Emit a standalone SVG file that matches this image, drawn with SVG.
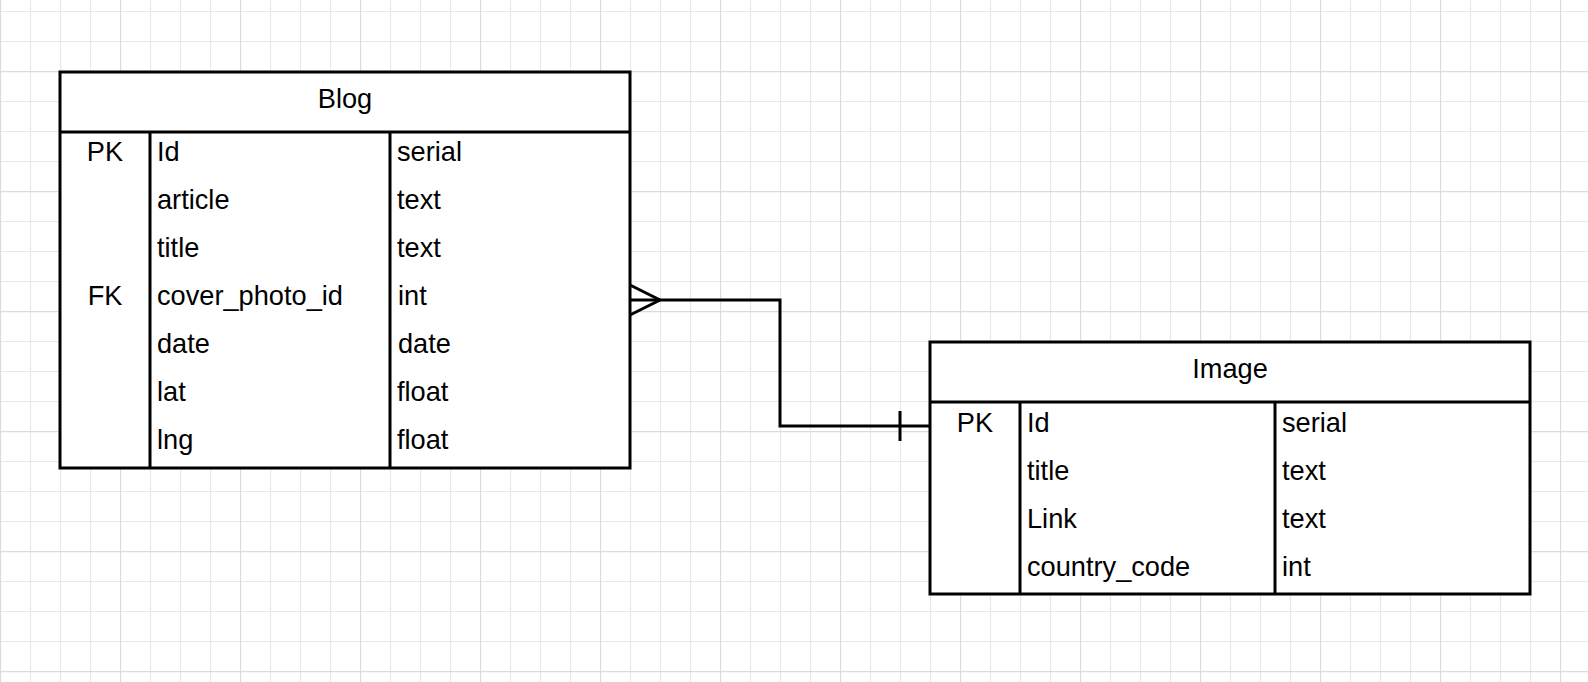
<svg xmlns="http://www.w3.org/2000/svg" width="1588" height="682" viewBox="0 0 1588 682">
  <style>
    text { font-family: "Liberation Sans", Arial, sans-serif; font-size: 27.2px; fill: #000; }
    .c { text-anchor: middle; }
    .box { fill: #fff; stroke: #000; stroke-width: 3; }
    .ln { fill: none; stroke: #000; stroke-width: 3; }
  </style>
  <defs>
    <pattern id="grid" patternUnits="userSpaceOnUse" x="0" y="-49" width="120" height="120">
      <path d="M30.5 0V120M60.5 0V120M90.5 0V120M0 30.5H120M0 60.5H120M0 90.5H120" stroke="#e9e9e9" stroke-width="1.2" fill="none"/>
      <path d="M0.5 0V120M0 0.5H120" stroke="#dcdcdc" stroke-width="1.4" fill="none"/>
    </pattern>
  </defs>
  <rect width="1588" height="682" fill="#fff"/>
  <rect width="1588" height="682" fill="url(#grid)"/>

  <g id="connectors">
    <path class="ln" d="M630 300H780V426H930"/>
    <path class="ln" d="M630 285L660 300L630 315"/>
    <path class="ln" d="M900 411V441"/>
  </g>

  <g id="blog">
    <rect class="box" x="60" y="72" width="570" height="396"/>
    <path class="ln" d="M60 132H630M150 132V468M390 132V468"/>
    <text class="c" x="345" y="108">Blog</text>
    <text class="c" x="105" y="161">PK</text>
    <text class="c" x="105" y="305">FK</text>
    <text x="157" y="161">Id</text>
    <text x="157" y="209">article</text>
    <text x="157" y="257">title</text>
    <text x="157" y="305">cover_photo_id</text>
    <text x="157" y="353">date</text>
    <text x="157" y="401">lat</text>
    <text x="157" y="449">lng</text>
    <text x="397" y="161">serial</text>
    <text x="397" y="209">text</text>
    <text x="397" y="257">text</text>
    <text x="398" y="305">int</text>
    <text x="398" y="353">date</text>
    <text x="397" y="401">float</text>
    <text x="397" y="449">float</text>
  </g>

  <g id="image">
    <rect class="box" x="930" y="342" width="600" height="252"/>
    <path class="ln" d="M930 402H1530M1020 402V594M1275 402V594"/>
    <text class="c" x="1230" y="378">Image</text>
    <text class="c" x="975" y="432">PK</text>
    <text x="1027" y="432">Id</text>
    <text x="1027" y="480">title</text>
    <text x="1027" y="528">Link</text>
    <text x="1027" y="576">country_code</text>
    <text x="1282" y="432">serial</text>
    <text x="1282" y="480">text</text>
    <text x="1282" y="528">text</text>
    <text x="1282" y="576">int</text>
  </g>
</svg>
